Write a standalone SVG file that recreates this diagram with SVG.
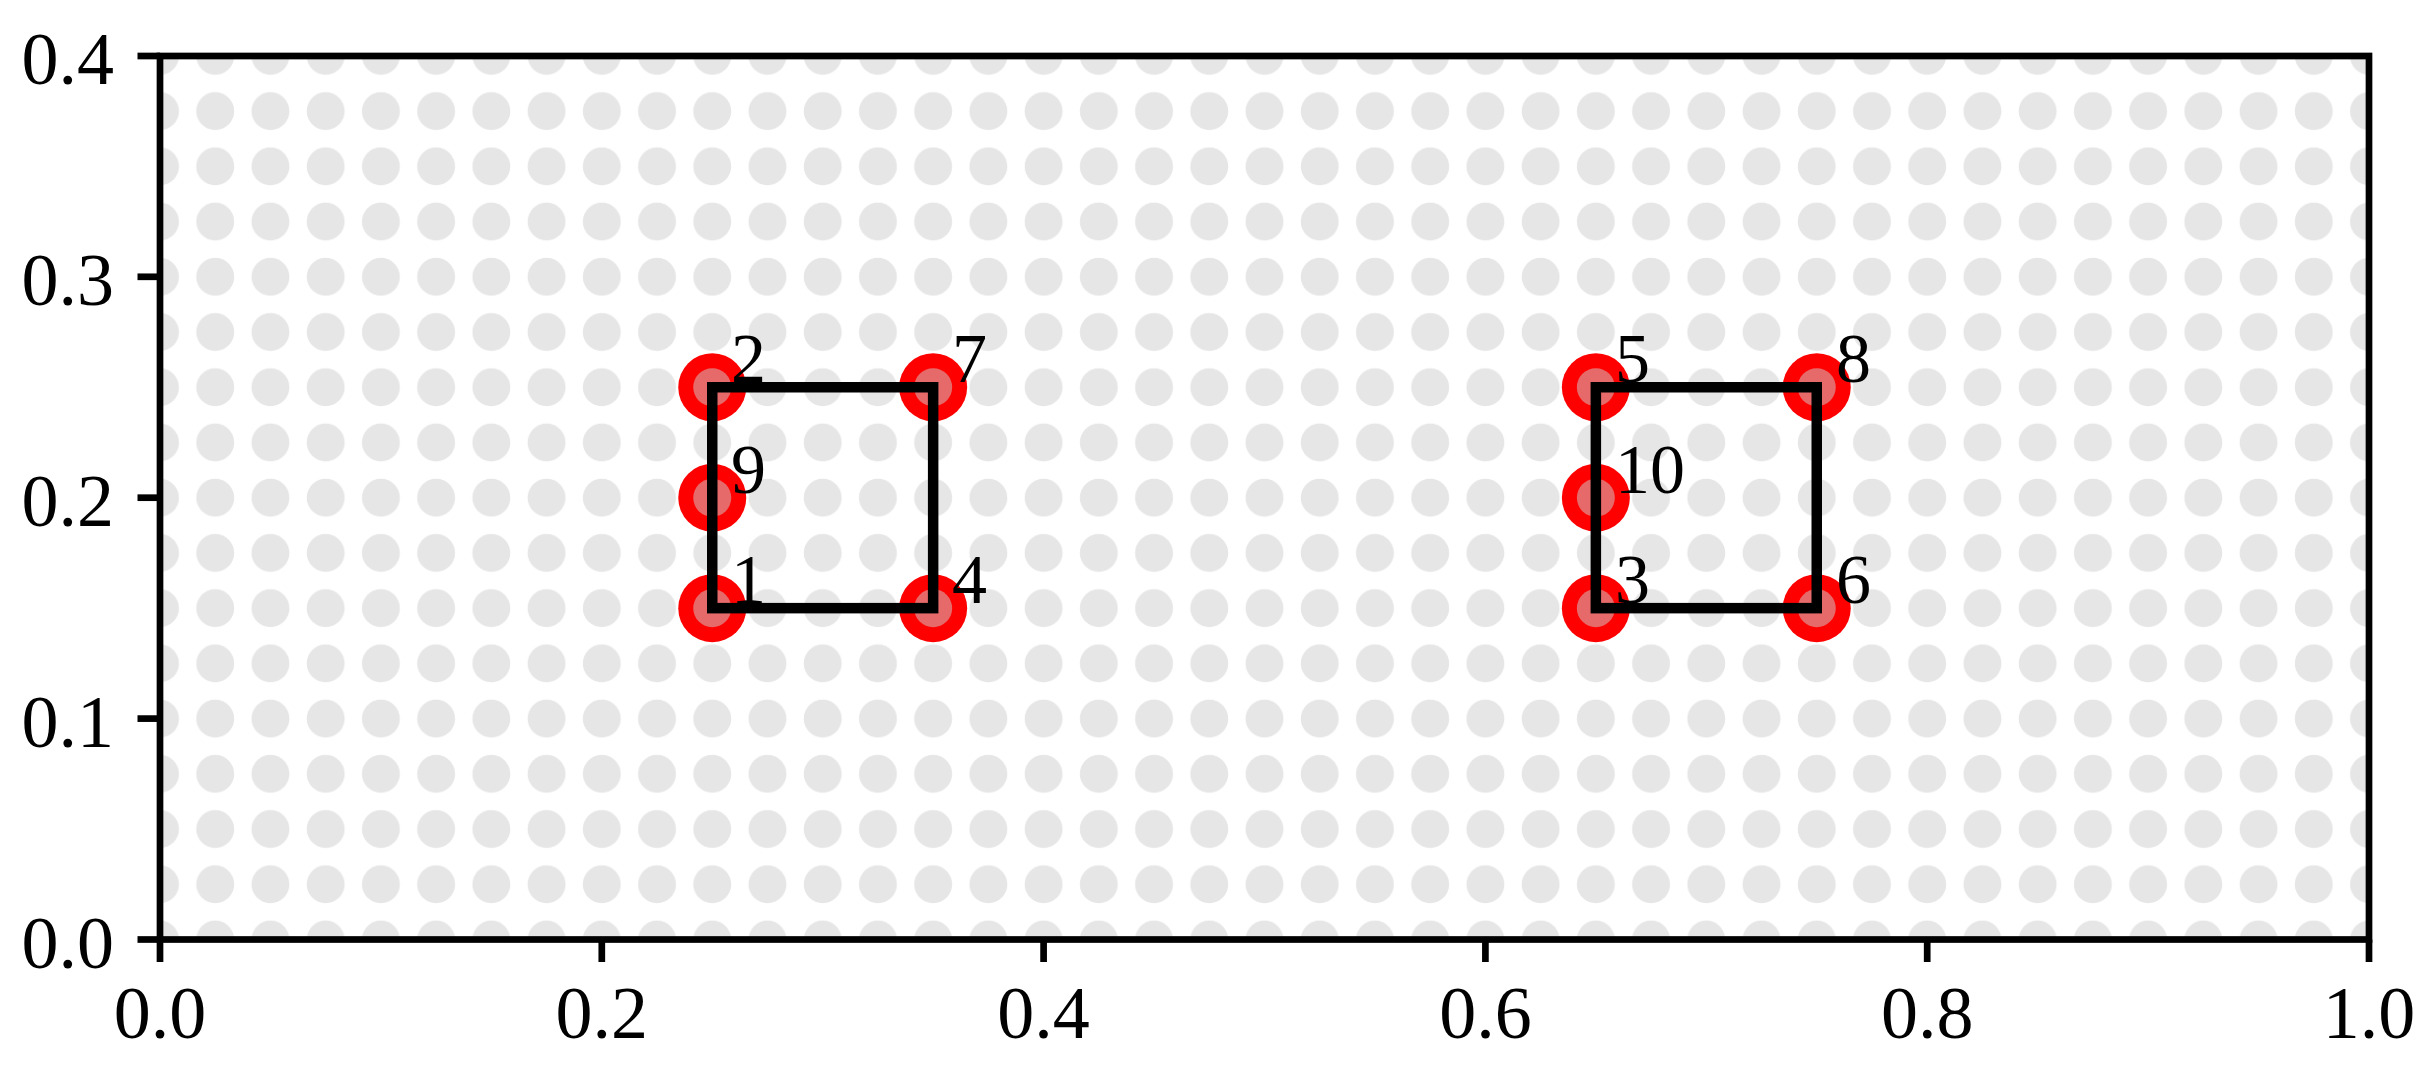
<svg xmlns="http://www.w3.org/2000/svg" width="2434" height="1077" viewBox="0 0 2434 1077">
  <style>
    .tick { font-family: "Liberation Serif", "Times New Roman", serif; font-size: 74px; fill: #000; }
    .lbl { font-family: "Liberation Serif", "Times New Roman", serif; font-size: 70px; fill: #000; }
    .mk { fill: #ff0000; }
    .mkin { fill: #e66a6a; }
    .edge { fill: none; stroke: #000; stroke-width: 10.5; stroke-linejoin: miter; }
    .ax { stroke: #000; stroke-width: 6.7; fill: none; }
  </style>
  <defs>
    <pattern id="dots" patternUnits="userSpaceOnUse" x="132.3875" y="911.8875" width="55.225" height="55.225">
      <circle cx="27.6125" cy="27.6125" r="19" fill="#e6e6e6"/>
    </pattern>
    <clipPath id="axclip">
      <rect x="160" y="56" width="2209" height="883.5"/>
    </clipPath>
  </defs>
  <rect x="0" y="0" width="2434" height="1077" fill="#ffffff"/>
  <g id="background">
    <rect x="160" y="56" width="2209" height="883.5" fill="url(#dots)"/>
  </g>
  <g id="nodes" clip-path="url(#axclip)">
    <g id="node1"><circle class="mk" cx="712.25" cy="608.15" r="34"/><circle class="mkin" cx="712.25" cy="608.15" r="19"/></g>
    <g id="node2"><circle class="mk" cx="712.25" cy="387.25" r="34"/><circle class="mkin" cx="712.25" cy="387.25" r="19"/></g>
    <g id="node3"><circle class="mk" cx="1595.85" cy="608.15" r="34"/><circle class="mkin" cx="1595.85" cy="608.15" r="19"/></g>
    <g id="node4"><circle class="mk" cx="933.15" cy="608.15" r="34"/><circle class="mkin" cx="933.15" cy="608.15" r="19"/></g>
    <g id="node5"><circle class="mk" cx="1595.85" cy="387.25" r="34"/><circle class="mkin" cx="1595.85" cy="387.25" r="19"/></g>
    <g id="node6"><circle class="mk" cx="1816.75" cy="608.15" r="34"/><circle class="mkin" cx="1816.75" cy="608.15" r="19"/></g>
    <g id="node7"><circle class="mk" cx="933.15" cy="387.25" r="34"/><circle class="mkin" cx="933.15" cy="387.25" r="19"/></g>
    <g id="node8"><circle class="mk" cx="1816.75" cy="387.25" r="34"/><circle class="mkin" cx="1816.75" cy="387.25" r="19"/></g>
    <g id="node9"><circle class="mk" cx="712.25" cy="497.7" r="34"/><circle class="mkin" cx="712.25" cy="497.7" r="19"/></g>
    <g id="node10"><circle class="mk" cx="1595.85" cy="497.7" r="34"/><circle class="mkin" cx="1595.85" cy="497.7" r="19"/></g>
  </g>
  <g id="connectors">
    <rect class="edge" x="712.25" y="387.25" width="220.9" height="220.9"/>
    <rect class="edge" x="1595.85" y="387.25" width="220.9" height="220.9"/>
  </g>
  <g id="labels">
    <text class="lbl" x="731" y="603">1</text>
    <text class="lbl" x="731" y="382">2</text>
    <text class="lbl" x="1615" y="603">3</text>
    <text class="lbl" x="952" y="603">4</text>
    <text class="lbl" x="1615" y="382">5</text>
    <text class="lbl" x="1836" y="603">6</text>
    <text class="lbl" x="952" y="382">7</text>
    <text class="lbl" x="1836" y="382">8</text>
    <text class="lbl" x="731" y="493">9</text>
    <text class="lbl" x="1615" y="493">10</text>
  </g>
  <g id="axes">
    <rect class="ax" x="160" y="56" width="2209" height="883.5" stroke-linecap="square"/>
    <g class="ax">
      <line x1="137.5" y1="939.5" x2="160" y2="939.5"/>
      <line x1="137.5" y1="718.6" x2="160" y2="718.6"/>
      <line x1="137.5" y1="497.7" x2="160" y2="497.7"/>
      <line x1="137.5" y1="276.8" x2="160" y2="276.8"/>
      <line x1="137.5" y1="56" x2="160" y2="56"/>
      <line x1="160" y1="939.5" x2="160" y2="962"/>
      <line x1="601.8" y1="939.5" x2="601.8" y2="962"/>
      <line x1="1043.6" y1="939.5" x2="1043.6" y2="962"/>
      <line x1="1485.4" y1="939.5" x2="1485.4" y2="962"/>
      <line x1="1927.2" y1="939.5" x2="1927.2" y2="962"/>
      <line x1="2369" y1="939.5" x2="2369" y2="962"/>
    </g>
    <g class="tick" text-anchor="end">
      <text x="114" y="967.5">0.0</text>
      <text x="114" y="746.6">0.1</text>
      <text x="114" y="525.7">0.2</text>
      <text x="114" y="304.8">0.3</text>
      <text x="114" y="84">0.4</text>
    </g>
    <g class="tick" text-anchor="middle">
      <text x="160" y="1038">0.0</text>
      <text x="601.8" y="1038">0.2</text>
      <text x="1043.6" y="1038">0.4</text>
      <text x="1485.4" y="1038">0.6</text>
      <text x="1927.2" y="1038">0.8</text>
      <text x="2369" y="1038">1.0</text>
    </g>
  </g>
</svg>
